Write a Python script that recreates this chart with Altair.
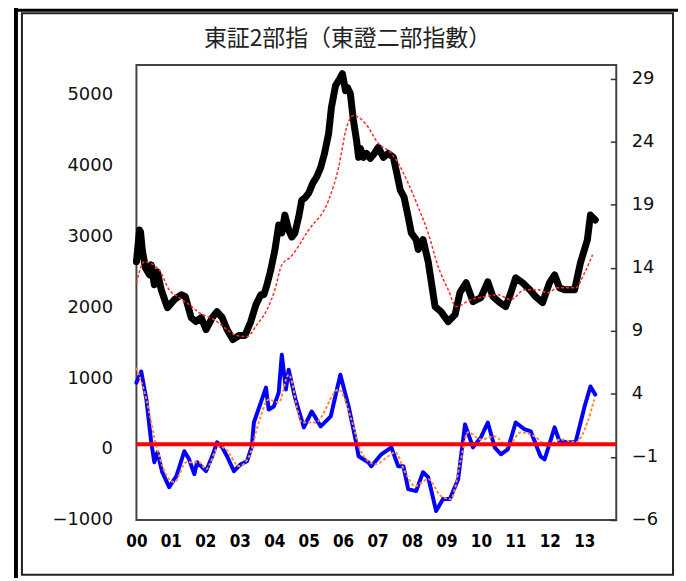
import altair as alt
import pandas as pd

# ---------------- data ----------------
title_text = ["東証2部指（東證二部指數）"]
year_ticks = list(range(2000, 2014))
left_ticks = [-1000, 0, 1000, 2000, 3000, 4000, 5000]
right_ticks = [-6, -1, 4, 9, 14, 19, 24, 29]
zero_level = [0]

# index (black, left axis)
idx_year = [
    2000.00, 2000.09, 2000.12, 2000.17, 2000.26, 2000.38, 2000.43, 2000.52, 2000.61, 2000.72, 2000.90,
    2001.10, 2001.30, 2001.42, 2001.59, 2001.73, 2001.88,
    2002.02, 2002.20, 2002.34, 2002.49, 2002.63, 2002.80, 2002.98,
    2003.15, 2003.32, 2003.47, 2003.61, 2003.70, 2003.79, 2003.90,
    2004.02, 2004.13, 2004.22, 2004.31, 2004.42, 2004.51, 2004.60, 2004.71, 2004.80, 2004.91,
    2005.00, 2005.12, 2005.23, 2005.35, 2005.46, 2005.58, 2005.66, 2005.78, 2005.87, 2005.98,
    2006.07, 2006.13, 2006.21, 2006.30, 2006.39, 2006.45, 2006.50, 2006.59, 2006.68, 2006.79, 2006.91,
    2007.02, 2007.17, 2007.31, 2007.46, 2007.54, 2007.66, 2007.77, 2007.89, 2007.98,
    2008.12, 2008.18, 2008.32, 2008.47, 2008.67, 2008.84,
    2009.05, 2009.25, 2009.39, 2009.57, 2009.77,
    2010.00, 2010.20, 2010.35, 2010.55, 2010.72, 2010.87,
    2011.01, 2011.21, 2011.42, 2011.59, 2011.79, 2011.99,
    2012.14, 2012.28, 2012.43, 2012.72, 2012.89,
    2013.09, 2013.18, 2013.32,
]
idx_value = [
    2640, 3085, 3057, 2805, 2553, 2454, 2595, 2314, 2496, 2244, 1992,
    2104, 2174, 2146, 1851, 1795, 1851,
    1683, 1851, 1935, 1851, 1683, 1543, 1599,
    1599, 1795, 2034, 2174, 2174, 2314, 2524,
    2805, 3156, 3043, 3296, 3086, 2987, 3043, 3268, 3506, 3548,
    3604, 3745, 3829, 3969, 4165, 4446, 4811, 5119, 5189, 5287,
    5049, 5091, 5007, 4628, 4348, 4109, 4236, 4109, 4165, 4095, 4165,
    4250, 4109, 4165, 4109, 3927, 3647, 3548, 3268, 3043,
    2950, 2810, 2950, 2640, 2006, 1935,
    1795, 1893, 2202, 2342, 2076,
    2132, 2356, 2146, 2062, 2006, 2202,
    2412, 2342, 2244, 2146, 2062, 2342,
    2454, 2272, 2244, 2244, 2623,
    2945, 3296, 3226,
]

# moving average of index (red dashed, left axis)
ma_year = [2000.00, 2000.23, 2000.66, 2000.95, 2001.24, 2001.53, 2001.82, 2002.25, 2002.63,
           2002.89, 2003.21, 2003.50, 2003.79, 2004.02, 2004.22, 2004.48, 2005.00, 2005.58,
           2005.87, 2006.10, 2006.30, 2006.65, 2007.02, 2007.40, 2007.60, 2007.89, 2008.18,
           2008.47, 2008.76, 2009.05, 2009.28, 2009.71, 2010.12, 2010.49, 2010.87, 2011.27,
           2011.65, 2011.94, 2012.23, 2012.75, 2013.01, 2013.24]
ma_value = [2342, 2637, 2524, 2244, 2132, 2034, 1921, 1823, 1683,
            1599, 1585, 1753, 1963, 2244, 2595, 2707, 3086, 3506,
            3969, 4530, 4698, 4586, 4306, 4165, 4025, 3745, 3408,
            3043, 2567, 2244, 2006, 2104, 2146, 2174, 2104, 2244,
            2244, 2202, 2272, 2272, 2482, 2735]

# deviation oscillator (blue, right axis)
osc_year = [2000.00, 2000.14, 2000.29, 2000.43, 2000.52, 2000.61, 2000.75, 2000.95,
            2001.16, 2001.39, 2001.53, 2001.68, 2001.76,
            2002.02, 2002.20, 2002.34, 2002.49, 2002.63, 2002.83,
            2003.03, 2003.21, 2003.35, 2003.41, 2003.61, 2003.76, 2003.84, 2003.99,
            2004.13, 2004.22, 2004.34, 2004.42, 2004.57, 2004.62, 2004.86,
            2005.09, 2005.35, 2005.64, 2005.92,
            2006.16, 2006.36, 2006.45, 2006.73, 2006.82,
            2007.11, 2007.40, 2007.60, 2007.75, 2007.89,
            2008.12, 2008.32, 2008.47, 2008.70, 2008.90,
            2009.10, 2009.34, 2009.54, 2009.77,
            2010.00, 2010.20, 2010.40, 2010.58, 2010.78,
            2011.01, 2011.27, 2011.45, 2011.73, 2011.85,
            2012.14, 2012.28, 2012.51, 2012.75,
            2013.01, 2013.18, 2013.32]
osc_value = [4.89, 5.76, 3.55, 0.16, -1.42, -0.63, -2.21, -3.40,
             -2.53, -0.55, -1.19, -2.37, -1.42,
             -2.13, -0.95, 0.16, -0.24, -0.95, -2.13,
             -1.58, -1.34, -0.16, 1.73, 3.31, 4.50, 2.76, 3.00,
             4.10, 7.10, 4.34, 5.92, 4.10, 3.55, 1.34,
             2.60, 1.42, 2.21, 5.52,
             3.00, 0.39, -0.95, -1.42, -1.74,
             -0.79, -0.24, -1.74, -1.74, -3.55,
             -3.71, -2.21, -2.61, -5.29, -4.34,
             -4.34, -2.76, 1.58, -0.24,
             0.55, 1.73, -0.24, -0.79, -0.40,
             1.73, 1.18, 1.02, -0.95, -1.19,
             1.34, 0.24, 0.16, 0.16,
             3.00, 4.58, 3.94]

# smoothed oscillator (orange dotted, right axis)
osm_year = [2000.00, 2000.29, 2000.58, 2000.95, 2001.10, 2001.45, 2001.82, 2002.02, 2002.40,
            2002.60, 2002.98, 2003.27, 2003.55, 2003.84, 2004.13, 2004.42, 2004.80, 2005.20,
            2005.87, 2006.24, 2006.53, 2006.94, 2007.31, 2007.51, 2007.80, 2008.09, 2008.47,
            2008.84, 2009.13, 2009.42, 2009.62, 2010.00, 2010.40, 2010.78, 2011.16, 2011.56,
            2011.94, 2012.31, 2012.75, 2013.09, 2013.29]
osm_value = [6.08, 3.55, -0.16, -2.76, -3.00, -1.42, -1.42, -1.97, -0.16,
             -0.40, -1.74, -0.95, 1.73, 3.55, 3.31, 5.52, 1.73, 1.73,
             4.34, 1.97, -0.63, -1.58, -0.95, -0.63, -2.21, -3.32, -2.76,
             -4.11, -4.34, -1.19, 0.95, 0.39, 0.63, -0.16, 0.95, 0.63,
             -0.16, 0.39, 0.16, 1.73, 3.55]

# ---------------- chart ----------------
df_idx = pd.DataFrame({"year": idx_year, "value": idx_value})
df_ma = pd.DataFrame({"year": ma_year, "value": ma_value})
df_osc = pd.DataFrame({"year": osc_year, "value": osc_value})
df_osm = pd.DataFrame({"year": osm_year, "value": osm_value})
df_zero = pd.DataFrame({"value": zero_level})
df_title = pd.DataFrame({"label": title_text})

x_enc = alt.X(
    "year:Q",
    scale=alt.Scale(domain=[2000, 2013.93], nice=False, zero=False),
    axis=alt.Axis(
        orient="bottom", values=year_ticks, labelExpr="format(datum.value % 100, '02d')",
        ticks=False, domain=False, grid=False, labelPadding=14,
        labelFont="Liberation Sans Narrow, DejaVu Sans Condensed, Liberation Sans, sans-serif",
        labelFontWeight="bold", labelFontSize=17, labelColor="#000",
        labelOverlap=False, labelFlush=False, title=None,
    ),
)

left_scale = alt.Scale(domain=[-1000, 5410], nice=False, zero=False)
left_axis = alt.Axis(
    orient="left", values=left_ticks, format="d", ticks=False, tickSize=0, domain=False,
    grid=False, labelPadding=24, labelFont="DejaVu Sans", labelFontSize=18, labelColor="#111",
    labelOverlap=False, title=None,
)
right_scale = alt.Scale(domain=[-6, 30.07], nice=False, zero=False)
right_axis = alt.Axis(
    orient="right", values=right_ticks, format="d", offset=-6, tickSize=6, tickColor="#333",
    tickWidth=1.5, domain=False, grid=False, labelPadding=15, labelFont="DejaVu Sans",
    labelFontSize=18, labelColor="#111", labelOverlap=False, title=None,
)

black = alt.Chart(df_idx).mark_line(
    color="#000", strokeWidth=7, strokeCap="round", strokeJoin="round"
).encode(x=x_enc, y=alt.Y("value:Q", scale=left_scale, axis=left_axis))

red_ma = alt.Chart(df_ma).mark_line(
    color="#ff2a2a", strokeWidth=1.5, strokeDash=[3, 2], interpolate="monotone"
).encode(x=x_enc, y=alt.Y("value:Q", scale=left_scale, axis=left_axis))

blue = alt.Chart(df_osc).mark_line(
    color="#0000ff", strokeWidth=4, strokeJoin="round", strokeCap="round"
).encode(x=x_enc, y=alt.Y("value:Q", scale=right_scale, axis=right_axis))

orange = alt.Chart(df_osm).mark_line(
    color="#ff8a3a", strokeWidth=2, strokeDash=[3, 2], interpolate="monotone"
).encode(x=x_enc, y=alt.Y("value:Q", scale=right_scale, axis=right_axis))

zero_rule = alt.Chart(df_zero).mark_rule(color="#ff0000", strokeWidth=4).encode(
    y=alt.Y("value:Q", scale=right_scale, axis=right_axis)
)

left_group = alt.layer(black, red_ma)
right_group = alt.layer(blue, orange, zero_rule)

# chart title as a text mark (centred on the framed figure)
title_mark = alt.Chart(df_title).mark_text(
    font="Noto Sans CJK JP", fontSize=23, color="#222", align="center", baseline="middle"
).encode(text="label:N", x=alt.value(212), y=alt.value(-26))

# decorative page frame around the figure
frame_box = alt.Chart(alt.Data(values=[{}])).mark_rect(
    fill=None, stroke="#222", strokeWidth=2
).encode(x=alt.value(-115), x2=alt.value(539), y=alt.value(-52), y2=alt.value(512))
frame_left = alt.Chart(alt.Data(values=[{}])).mark_rule(
    color="#000", strokeWidth=4
).encode(x=alt.value(-121), y=alt.value(-70), y2=alt.value(520))
frame_top = alt.Chart(alt.Data(values=[{}])).mark_rule(
    color="#000", strokeWidth=3
).encode(x=alt.value(-121), x2=alt.value(560), y=alt.value(-55))

chart = alt.layer(
    left_group, right_group, title_mark, frame_box, frame_left, frame_top
).resolve_scale(y="independent").properties(
    width=482,
    height=457,
    autosize=alt.AutoSizeParams(type="none"),
    padding={"left": 129, "top": 56, "right": 62, "bottom": 57},
    background="white",
).configure_view(stroke="#444", strokeWidth=2)

chart.save("out.html", embed_options={"renderer": "svg", "actions": False})
